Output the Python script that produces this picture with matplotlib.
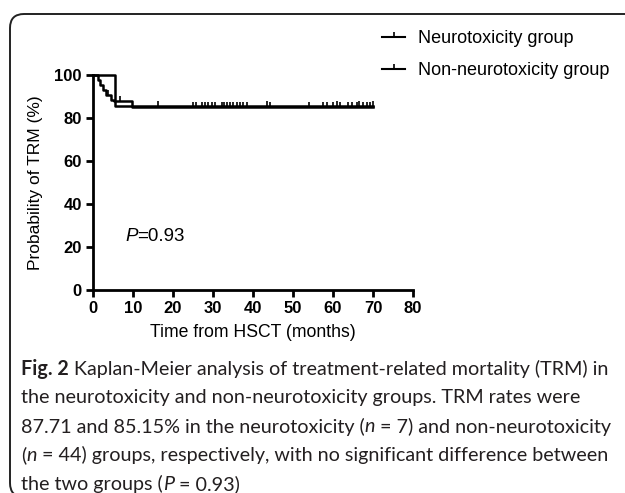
import matplotlib
matplotlib.use("Agg")
import numpy as np
import matplotlib.pyplot as plt
from matplotlib.patches import FancyBboxPatch
from matplotlib.lines import Line2D
from matplotlib.transforms import IdentityTransform

# ---- data ----
neuro_times = [0, 5.5, 70]
neuro_surv = [100, 85.7, 85.7]
non_times = [0, 1.2, 1.8, 2.4, 3.2, 4.5, 5.2, 9.8, 70]
non_surv = [100, 97.7, 95.5, 93.2, 90.9, 88.6, 87.7, 85.2, 85.2]
neuro_censor = [16.3, 43.4, 60.9, 66.6, 70]
non_censor = [3.8, 6.8, 25.1, 25.7, 27.2, 28.0, 28.8, 29.7, 30.5, 32.2, 32.75,
              33.4, 34.25, 35.1, 35.9, 36.75, 37.6, 38.4, 44.25, 54.1, 57.6,
              58.4, 60.1, 61.75, 63.8, 64.7, 65.9, 67.5, 68.5, 69.3]
xticks = [0, 10, 20, 30, 40, 50, 60, 70, 80]
yticks = [0, 20, 40, 60, 80, 100]
legend_labels = ["Neurotoxicity group", "Non-neurotoxicity group"]
xlabel = "Time from HSCT (months)"
ylabel = "Probability of TRM (%)"
p_label = ("P", "=0.93")
caption = [
    [("Fig. 2", "bold"), (" Kaplan-Meier analysis of treatment-related mortality (TRM) in", "normal")],
    [("the neurotoxicity and non-neurotoxicity groups. TRM rates were", "normal")],
    [("87.71 and 85.15% in the neurotoxicity (", "normal"), ("n", "italic"),
     (" = 7) and non-neurotoxicity", "normal")],
    [("(", "normal"), ("n", "italic"), (" = 44) groups, respectively, with no significant difference between", "normal")],
    [("the two groups (", "normal"), ("P", "italic"), (" = 0.93)", "normal")],
]

W, H = 625, 493
fig = plt.figure(figsize=(W / 100, H / 100), dpi=100)
fig.patch.set_facecolor("white")

# rounded frame
frame = FancyBboxPatch((10, -4), 650, H - 14 + 4, boxstyle="round,pad=0,rounding_size=14",
                       transform=IdentityTransform(), fill=False, ec="#222222", lw=1.4)
fig.patches.append(frame)

AF = "Liberation Sans"
ax = fig.add_axes([93 / W, 1 - 290 / H, 320 / W, 215 / H])


def step_val(ts, ss, t):
    idx = np.searchsorted(ts, t, side="right") - 1
    return ss[idx]


ax.step(neuro_times, neuro_surv, where="post", color="black", lw=1.8, clip_on=False)
ax.step(non_times, non_surv, where="post", color="black", lw=1.8, clip_on=False)
ax.plot(neuro_censor, [step_val(neuro_times, neuro_surv, t) for t in neuro_censor],
        ls="none", marker=2, ms=3.5, mew=1.2, color="black", clip_on=False)
ax.plot(non_censor, [step_val(non_times, non_surv, t) for t in non_censor],
        ls="none", marker=2, ms=3.5, mew=1.2, color="black", clip_on=False)

ax.set_xlim(0, 80)
ax.set_ylim(0, 100)
ax.set_xticks(xticks)
ax.set_yticks(yticks)
for s in ["top", "right"]:
    ax.spines[s].set_visible(False)
for s in ["left", "bottom"]:
    ax.spines[s].set_linewidth(2)
ax.tick_params(length=5, width=2, direction="out", pad=3)
for lab in ax.get_xticklabels() + ax.get_yticklabels():
    lab.set_fontfamily(AF)
    lab.set_fontweight("bold")
    lab.set_fontsize(12)
ax.set_xlabel(xlabel, fontfamily=AF, fontsize=12.7, labelpad=6)
ax.set_ylabel(ylabel, fontfamily=AF, fontsize=12.5, labelpad=8)

fig.canvas.draw()
r = fig.canvas.get_renderer()

# P value annotation
px, py = 8, 22.8
t1 = ax.text(px, py, p_label[0], fontfamily=AF, fontstyle="italic", fontsize=13.5, va="baseline")
bb = t1.get_window_extent(r)
base_y = ax.transData.transform((px, py))[1]
fig.text(bb.x1 / W, base_y / H, p_label[1], fontfamily=AF, fontsize=13.5, va="baseline")

# legend
handles = [Line2D([0], [0], color="black", lw=1.5, marker=2, ms=3.5, mew=1.2) for _ in legend_labels]
leg = fig.legend(handles, legend_labels, loc="upper left", bbox_to_anchor=(382 / W, 1 - 30 / H),
                 frameon=False, prop={"family": AF, "size": 13}, handlelength=1.3,
                 handletextpad=0.7, labelspacing=0.85, numpoints=1,
                 borderpad=0, borderaxespad=0)

# caption
CF = "Lato"
cap_size = 14.2
y0 = H - 369
line_gap = 28.8
for i, segs in enumerate(caption):
    x = 21
    y = y0 - i * line_gap
    for txt, sty in segs:
        kw = dict(fontfamily=CF, fontsize=cap_size, va="center", color="#231f20")
        if sty == "bold":
            kw["fontweight"] = "bold"
        if sty == "italic":
            kw["fontstyle"] = "italic"
        t = fig.text(x / W, y / H, txt, **kw)
        e = t.get_window_extent(r)
        x = e.x1

fig.savefig("out.png", dpi=100)
